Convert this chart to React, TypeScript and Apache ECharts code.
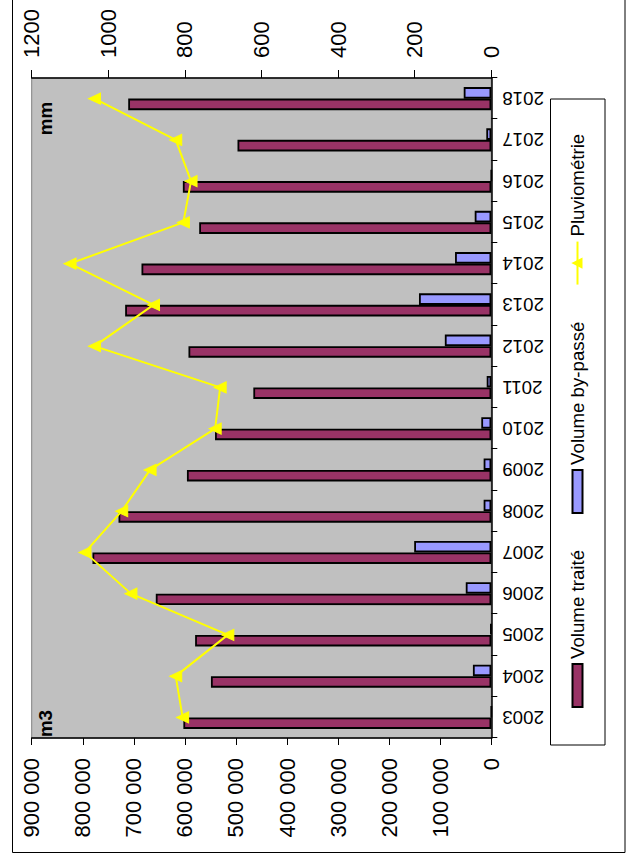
import React, { useEffect, useRef } from "react";
import * as echarts from "echarts";

// Yearly volumes (m3) and rainfall (mm)
const years = [
  "2003", "2004", "2005", "2006", "2007", "2008", "2009", "2010",
  "2011", "2012", "2013", "2014", "2015", "2016", "2017", "2018",
];
const volumeTraite = [
  603000, 549000, 580000, 657000, 781000, 730000, 596000, 541000,
  466000, 593000, 717000, 685000, 572000, 604000, 497000, 711000,
];
const volumeByPasse = [
  0, 36000, 1500, 50000, 151000, 15000, 15000, 19600,
  9000, 91000, 141600, 71000, 32500, 0, 9800, 54000,
];
const pluviometrie = [
  806, 824, 688, 941, 1061, 965, 891, 721,
  708, 1036, 882, 1100, 804, 784, 824, 1036,
];
const seriesNames = ["Volume traité", "Volume by-passé", "Pluviométrie"];
const volumeAxis = { min: 0, max: 900000, step: 100000, unit: "m3" };
const rainAxis = { min: 0, max: 1200, step: 200, unit: "mm" };

const FONT = "'Liberation Sans', Arial, Helvetica, sans-serif";
const W = 859;
const H = 627;

// "900000" -> "900 000"
const spaced = (v: number) =>
  String(v).replace(/\B(?=(\d{3})+(?!\d))/g, " ");
const plain = (v: number) => String(v);

export default function App() {
  const ref = useRef<HTMLDivElement>(null);

  useEffect(() => {
    if (!ref.current) return;
    const chart = echarts.init(ref.current, undefined, { renderer: "svg" });
    const axisLine = { show: true, lineStyle: { color: "#000", width: 1.5 } };
    const barBorder = { borderColor: "#000", borderWidth: 1.8 };
    chart.setOption({
      animation: false,
      backgroundColor: "#ffffff",
      textStyle: { fontFamily: FONT, color: "#000" },
      grid: {
        left: 121,
        right: 78,
        top: 31.7,
        bottom: 135.7,
        show: true,
        backgroundColor: "#C0C0C0",
        borderColor: "#808080",
        borderWidth: 1,
        containLabel: false,
        outerBoundsMode: "none",
      },
      legend: {
        left: 151,
        top: 568,
        padding: 0,
        itemGap: 36,
        itemWidth: 43,
        itemHeight: 10,
        textStyle: { fontSize: 18.7, color: "#000", fontFamily: FONT },
        data: [
          { name: seriesNames[0], icon: "rect" },
          { name: seriesNames[1], icon: "rect" },
          { name: seriesNames[2] },
        ],
      },
      xAxis: {
        type: "category",
        data: years,
        boundaryGap: true,
        axisLine,
        axisTick: { show: true, length: 6, lineStyle: { color: "#000", width: 1 } },
        axisLabel: {
          interval: 0,
          rotate: 90,
          margin: 11,
          fontSize: 18.7,
          color: "#000",
          fontFamily: FONT,
        },
        splitLine: { show: false },
      },
      yAxis: [
        {
          type: "value",
          position: "left",
          min: volumeAxis.min,
          max: volumeAxis.max,
          interval: volumeAxis.step,
          axisLine,
          axisTick: { show: true, length: 7, lineStyle: { color: "#000", width: 1 } },
          axisLabel: {
            formatter: spaced,
            fontSize: 22,
            margin: 20,
            color: "#000",
            fontFamily: FONT,
          },
          splitLine: { show: false },
        },
        {
          type: "value",
          position: "right",
          min: rainAxis.min,
          max: rainAxis.max,
          interval: rainAxis.step,
          axisLine,
          axisTick: { show: true, length: 8, lineStyle: { color: "#000", width: 1 } },
          axisLabel: {
            formatter: plain,
            fontSize: 22,
            margin: 20,
            color: "#000",
            fontFamily: FONT,
          },
          splitLine: { show: false },
        },
      ],
      series: [
        {
          name: seriesNames[0],
          type: "bar",
          yAxisIndex: 0,
          data: volumeTraite,
          barWidth: 11.5,
          barGap: "0%",
          itemStyle: { color: "#993366", ...barBorder },
        },
        {
          name: seriesNames[1],
          type: "bar",
          yAxisIndex: 0,
          data: volumeByPasse,
          barWidth: 11.5,
          barGap: "0%",
          itemStyle: { color: "#9999FF", ...barBorder },
        },
        {
          name: seriesNames[2],
          type: "line",
          yAxisIndex: 1,
          data: pluviometrie,
          symbol: "triangle",
          symbolSize: [11, 12],
          lineStyle: { color: "#FFFF00", width: 2 },
          itemStyle: { color: "#FFFF00", borderColor: "#FFFF00", borderWidth: 1 },
          z: 5,
        },
      ],
      graphic: [
        {
          type: "rect",
          z: -10,
          silent: true,
          shape: { x: 6.5, y: 12.5, width: 900, height: 612.5 },
          style: { fill: "none", stroke: "#000", lineWidth: 1 },
        },
        {
          type: "rect",
          z: -5,
          silent: true,
          shape: { x: 114, y: 550.5, width: 646, height: 54.5 },
          style: { fill: "#fff", stroke: "#000", lineWidth: 1 },
        },
        {
          type: "text",
          z: 100,
          silent: true,
          x: 122,
          y: 45.5,
          style: {
            text: volumeAxis.unit,
            font: `bold 18.7px ${FONT}`,
            fill: "#000",
            align: "left",
            verticalAlign: "middle",
          },
        },
        {
          type: "text",
          z: 100,
          silent: true,
          x: 757,
          y: 45.5,
          style: {
            text: rainAxis.unit,
            font: `bold 18.7px ${FONT}`,
            fill: "#000",
            align: "right",
            verticalAlign: "middle",
          },
        },
      ],
    });
    return () => chart.dispose();
  }, []);

  return (
    <div
      style={{
        position: "fixed",
        left: 0,
        top: 0,
        width: 627,
        height: 859,
        overflow: "hidden",
        background: "#ffffff",
      }}
    >
      <div
        ref={ref}
        style={{
          position: "absolute",
          left: 0,
          top: 0,
          width: W,
          height: H,
          transformOrigin: "0 0",
          transform: `translateY(${W}px) rotate(-90deg)`,
        }}
      />
    </div>
  );
}
